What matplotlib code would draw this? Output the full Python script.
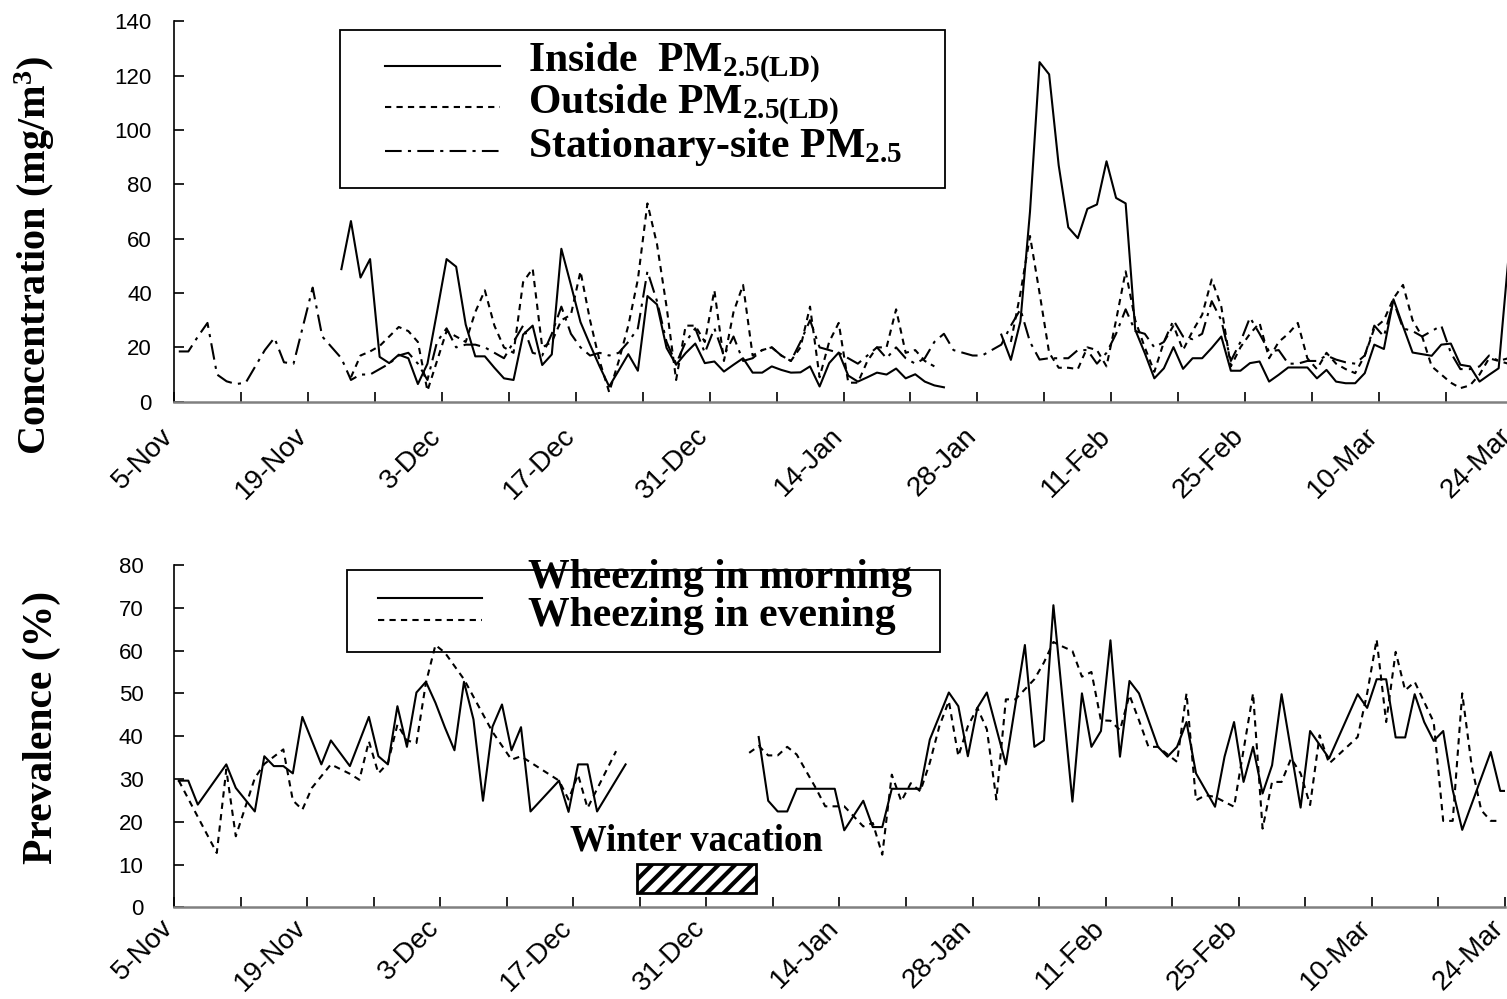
import numpy as np
import matplotlib
matplotlib.use("Agg")
import matplotlib.pyplot as plt
from matplotlib.lines import Line2D
from matplotlib.patches import Rectangle
from matplotlib.transforms import ScaledTranslation

plt.rcParams['font.family'] = 'Liberation Sans'
plt.rcParams['mathtext.fontset'] = 'custom'
plt.rcParams['mathtext.rm'] = 'Liberation Serif:bold'
plt.rcParams['mathtext.it'] = 'Liberation Serif:bold'
plt.rcParams['mathtext.bf'] = 'Liberation Serif:bold'
plt.rcParams['hatch.linewidth'] = 3.0

# day 0 = 5-Nov, one tick per week, label every two weeks
date_labels = ["5-Nov", "19-Nov", "3-Dec", "17-Dec", "31-Dec", "14-Jan",
               "28-Jan", "11-Feb", "25-Feb", "10-Mar", "24-Mar"]

# ---- top panel: daily PM2.5 (day index 0..139)
inside_1 = [48.8, 66.5, 45.7, 52.5, 16.5, 14.2, 17.3, 16, 6.5, 14,
            33, 52.5, 49.7, 28.4, 16.7, 16.7, 12.5, 8.6, 8, 24.7,
            28, 13.5, 17.4, 56.3, 43, 29.3, 21, 13, 5.6, 11.5,
            17.5, 11.4, 38.9, 35.8, 19.8, 13.6, 17.9, 21.4, 14.2, 14.8,
            11.1, 13.6, 16, 10.7, 10.7, 13, 11.7, 10.7, 10.8, 13,
            5.6, 14.2, 18.1, 9.6, 7.4, 9, 10.7, 10, 12.2, 8.6,
            10.1, 7.4, 6, 5.3]                      # days 17-80
inside_2 = [24.7, 15.4, 29.6, 70, 125, 120.5, 87, 64.2, 60.2, 71,
            72.6, 88.5, 75, 73, 26.5, 17.9, 8.6, 12.3, 20.1, 12.1,
            16, 16, 19.8, 24, 11.4, 11.4, 14.2, 14.8, 7.4, 9.9,
            12.6, 12.6, 12.6, 8.6, 11.7, 7.4, 6.8, 6.8, 10.5, 21,
            19.4, 37.7, 27.8, 18.1, 17.5, 16.9, 21, 21.4, 13.6, 13,
            7.4, 9.9, 12.3, 52]                     # days 86-139
outside_1 = [9, 17, 18.5, 20.5, 24, 27.5, 26, 22, 4, 15,
             26, 24, 22, 33, 41, 28, 20, 18, 44, 49,
             20, 22, 30, 32, 48, 30, 15, 3.5, 15, 28,
             45, 73, 58, 35, 8, 28, 28, 22, 41, 15,
             33, 43, 17, 19, 20, 17, 15, 20, 35, 9,
             22, 29, 7, 7, 15, 20, 20, 34, 18, 19,
             15, 13]                                # days 18-79
outside_2 = [22, 40, 61, 40, 18, 12.5, 12.5, 12, 20, 19,
             13, 30, 48, 30, 20, 11, 22, 28, 19, 26,
             32, 45, 35, 13, 20, 25, 29, 16, 22, 25,
             29, 16, 12, 18, 14, 12, 10.5, 17, 27, 30,
             38, 43, 30, 24, 13, 10, 7, 5, 6, 10,
             16, 15, 16]                            # days 87-139
stationary = [18.5, 18.5, 24, 29, 10, 7.5, 6.5, 7, 13, 19,
              23.5, 14.5, 14, 28, 42, 24, 20, 16, 8, 10,
              10, 12, 14, 17, 18, 14, 8, 22, 27, 20,
              21, 21, 20, 18, 16, 22, 28, 18, 17, 25,
              35, 25, 20, 17, 18, 17, 18, 22, 27, 48,
              37, 22, 14, 22, 27, 18, 27, 17, 24, 15,
              16, 19, 20, 17, 15, 22, 30, 20, 19, 18,
              16, 14, 17, 20, 16, 20, 16, 14, 16, 22,
              25, 19, 18, 17, 17, 19, 21, 28, 34, 22,
              15.5, 16, 16, 16, 19, 19, 14, 18, 25, 34,
              26, 25, 20, 22, 30, 24, 23, 25, 37, 30,
              15, 22, 31, 25, 18.5, 19, 14, 14, 15, 15,
              17, 15.5, 14.5, 14, 17, 28, 24, 37, 27, 26,
              24, 26, 28, 18, 12, 12, 13, 17, 15, 14]

# ---- bottom panel: wheezing prevalence (%) on school days
morning_days_1 = [0, 1, 2, 5, 6, 8, 9, 10, 11, 12, 13, 15, 16, 18, 20, 21, 22, 23, 24,
                  25, 26, 27, 28, 29, 30, 31, 32, 33, 34, 35, 36, 37, 40, 41, 42, 43, 44, 47]
morning_1 = [29.6, 29.6, 24, 33.4, 27.9, 22.4, 35.3, 33, 33, 31.3, 44.5, 33.4, 39, 33,
             44.5, 35.3, 33.4, 47, 37.5, 50.2, 52.7, 47.8, 42, 36.7, 52.7, 43.9, 24.9,
             42.2, 47.4, 36.7, 42.1, 22.4, 29.6, 22.3, 33.4, 33.4, 22.4, 33.4]
morning_days_2 = [61, 62, 63, 64, 65, 69, 70, 72, 73, 74, 75, 78, 79, 81, 82, 83, 84, 85,
                  87, 89, 90, 91, 92, 94, 95, 96, 97, 98, 99, 100, 101, 103, 104, 105, 106,
                  107, 109, 110, 111, 112, 113, 114, 115, 116, 118, 119, 121, 124, 125, 126,
                  127, 128, 129, 130, 131, 132, 133, 134, 135, 138, 139, 140]
morning_2 = [39.8, 24.9, 22.4, 22.4, 27.7, 27.7, 18, 24.9, 18.75, 18.75, 27.7, 27.7,
             39.2, 50.2, 47, 35.3, 46.6, 50.2, 33.4, 61.3, 37.5, 39, 70.6, 24.7, 50,
             37.5, 41.2, 62.4, 35.2, 52.9, 50, 37.5, 35.2, 37.5, 43.3, 31.3, 23.5, 35.2,
             43.3, 29.3, 37.5, 26.6, 33.2, 49.8, 23.3, 41.2, 34.8, 49.8, 46.6, 53.3,
             53.3, 39.7, 39.7, 49.8, 43.3, 38.9, 41.2, 27.4, 18.1, 36.3, 27.2, 27.2]
evening_days_1 = [0, 4, 5, 6, 8, 9, 11, 12, 13, 14, 16, 18, 19, 20, 21, 22, 23, 24, 25,
                  26, 27, 28, 30, 33, 35, 36, 40, 41, 42, 43, 46]
evening_1 = [29.6, 12.7, 32.2, 16.6, 30.2, 33.5, 36.9, 25, 22.8, 27.9, 33.4, 31.2, 29.8,
             38.8, 31.3, 33.7, 42.7, 39, 38.4, 52.5, 61.3, 59.5, 53.3, 41, 34.5, 35.3,
             29.6, 25.2, 31, 23.2, 36.5]
evening_days_2 = [60, 61, 62, 63, 64, 65, 67, 68, 70, 72, 73, 74, 75, 76, 77, 78, 79, 80,
                  81, 82, 83, 84, 85, 86, 87, 88, 90, 91, 92, 93, 94, 95, 96, 97, 98, 99,
                  100, 101, 102, 103, 105, 106, 107, 108, 109, 111, 113, 114, 115, 116, 117,
                  118, 119, 120, 121, 124, 125, 126, 127, 128, 129, 130, 132, 133, 134, 135,
                  136, 137, 138, 139]
evening_2 = [36.1, 37.7, 35.5, 35.5, 37.5, 35.7, 27.9, 23.6, 23.6, 18.9, 19.7, 12.3, 31,
             24.8, 29, 27.1, 33.8, 42.3, 48.2, 35.3, 42.3, 46.6, 41.6, 25.2, 48.6, 48.6,
             53.3, 57.2, 62, 60.9, 59.9, 53.9, 55, 43.7, 43.6, 41.4, 49.6, 43.7, 37.5, 37.5,
             34, 50, 25, 26.2, 25.8, 23.5, 50, 18.4, 29.3, 29.3, 34.8, 31.3, 23.9, 40.2,
             33.6, 39.8, 50, 62.6, 43.3, 59.7, 50.7, 52.7, 43.3, 20.2, 20.2, 50, 33, 22.7,
             20.2, 20.2]

vacation_start, vacation_end = 48.7, 61.2

W, H = 1507, 999
SERIF = dict(family='Liberation Serif', weight='bold')
DOT = (0, (3, 2.5))
DASHDOT = (0, (8, 3, 1.5, 3))
LW = 1.5


def px(x, y):
    return x / W, 1 - y / H


def fill(n_days, pieces):
    arr = np.full(n_days, np.nan)
    for start, vals in pieces:
        arr[start:start + len(vals)] = vals
    return arr


def style_axis(ax, ymax, ystep, ypad, xpad):
    for side in ['top', 'right']:
        ax.spines[side].set_visible(False)
    ax.spines['left'].set_linewidth(1.2)
    ax.spines['bottom'].set_color('#808080')
    ax.spines['bottom'].set_linewidth(1.8)
    ax.set_xlim(0, 140)
    ax.set_ylim(0, ymax)
    ax.set_yticks(np.arange(0, ymax + 1, ystep))
    ax.set_xticks(np.arange(0, 141, 7))
    ax.set_xticklabels([date_labels[i // 2] if i % 2 == 0 else '' for i in range(21)])
    ax.tick_params(direction='in', length=7, width=1.2)
    ax.tick_params(axis='y', pad=ypad, labelsize=16)
    ax.tick_params(axis='x', pad=xpad, labelsize=20)
    shift = ScaledTranslation(-5 / 100, 0, ax.figure.dpi_scale_trans)
    for lbl in ax.get_xticklabels():
        lbl.set_rotation(45)
        lbl.set_ha('right')
        lbl.set_va('center')
        lbl.set_rotation_mode('anchor')
        lbl.set_transform(lbl.get_transform() + shift)


def legend_box(fig, box, entries, text_x, fontsize):
    x0, y0, x1, y1 = box
    fig.add_artist(Rectangle(px(x0, y1), (x1 - x0) / W, (y1 - y0) / H,
                             transform=fig.transFigure, fill=False,
                             edgecolor='black', linewidth=1.3))
    for (lx0, lx1, ly, ls, ty, label) in entries:
        (a, b), (c, d) = px(lx0, ly), px(lx1, ly)
        fig.add_artist(Line2D([a, c], [b, d], transform=fig.transFigure,
                              color='black', lw=LW, linestyle=ls))
        fig.text(*px(text_x, ty), label, fontsize=fontsize, ha='left',
                 va='center', **SERIF)


fig = plt.figure(figsize=(W / 100, H / 100), dpi=100)

# top panel
ax1 = fig.add_axes([174 / W, (H - 401.7) / H, (1513 - 174) / W, 380.3 / H])
days = np.arange(140) + 0.5
inside = fill(140, [(17, inside_1), (86, inside_2)])
outside = fill(140, [(18, outside_1), (87, outside_2)])
ax1.plot(days, stationary, color='black', lw=LW, linestyle=DASHDOT)
ax1.plot(days, outside, color='black', lw=LW, linestyle=DOT)
ax1.plot(days, inside, color='black', lw=LW, linestyle='-')
style_axis(ax1, 140, 20, 16, 22)
fig.text(35 / W, 1 - 255 / H, 'Concentration (mg/m$^{3}$)', rotation=90,
         ha='center', va='center', fontsize=29, **SERIF)

legend_box(fig, (340, 30, 945, 188), [
    (385, 500, 66, '-', 63, 'Inside  PM$_{2.5(LD)}$'),
    (385, 500, 107, DOT, 105, 'Outside PM$_{2.5(LD)}$'),
    (385, 500, 151, DASHDOT, 147, 'Stationary-site PM$_{2.5}$'),
], 528, 30)

# bottom panel
ax2 = fig.add_axes([174 / W, (H - 907.3) / H, (1505 - 174) / W, 342.3 / H])
for d, v in [(morning_days_1, morning_1), (morning_days_2, morning_2)]:
    ax2.plot(np.array(d) + 0.5, v, color='black', lw=LW, linestyle='-')
for d, v in [(evening_days_1, evening_1), (evening_days_2, evening_2)]:
    ax2.plot(np.array(d) + 0.5, v, color='black', lw=LW, linestyle=DOT)
style_axis(ax2, 80, 10, 22, 12)
ax2.add_patch(Rectangle((vacation_start, 3.3), vacation_end - vacation_start, 6.8,
                        facecolor='white', edgecolor='black', hatch='//', lw=2))
ax2.text((vacation_start + vacation_end) / 2, 15.5, 'Winter vacation',
         ha='center', va='center', fontsize=26.5, **SERIF)
fig.text(42 / W, 1 - 727 / H, 'Prevalence (%)', rotation=90,
         ha='center', va='center', fontsize=30, **SERIF)

legend_box(fig, (347, 570, 940, 652), [
    (378, 482, 598, '-', 578, 'Wheezing in morning'),
    (378, 482, 620, DOT, 616, 'Wheezing in evening'),
], 528, 30)

fig.savefig('out.png', dpi=100)
